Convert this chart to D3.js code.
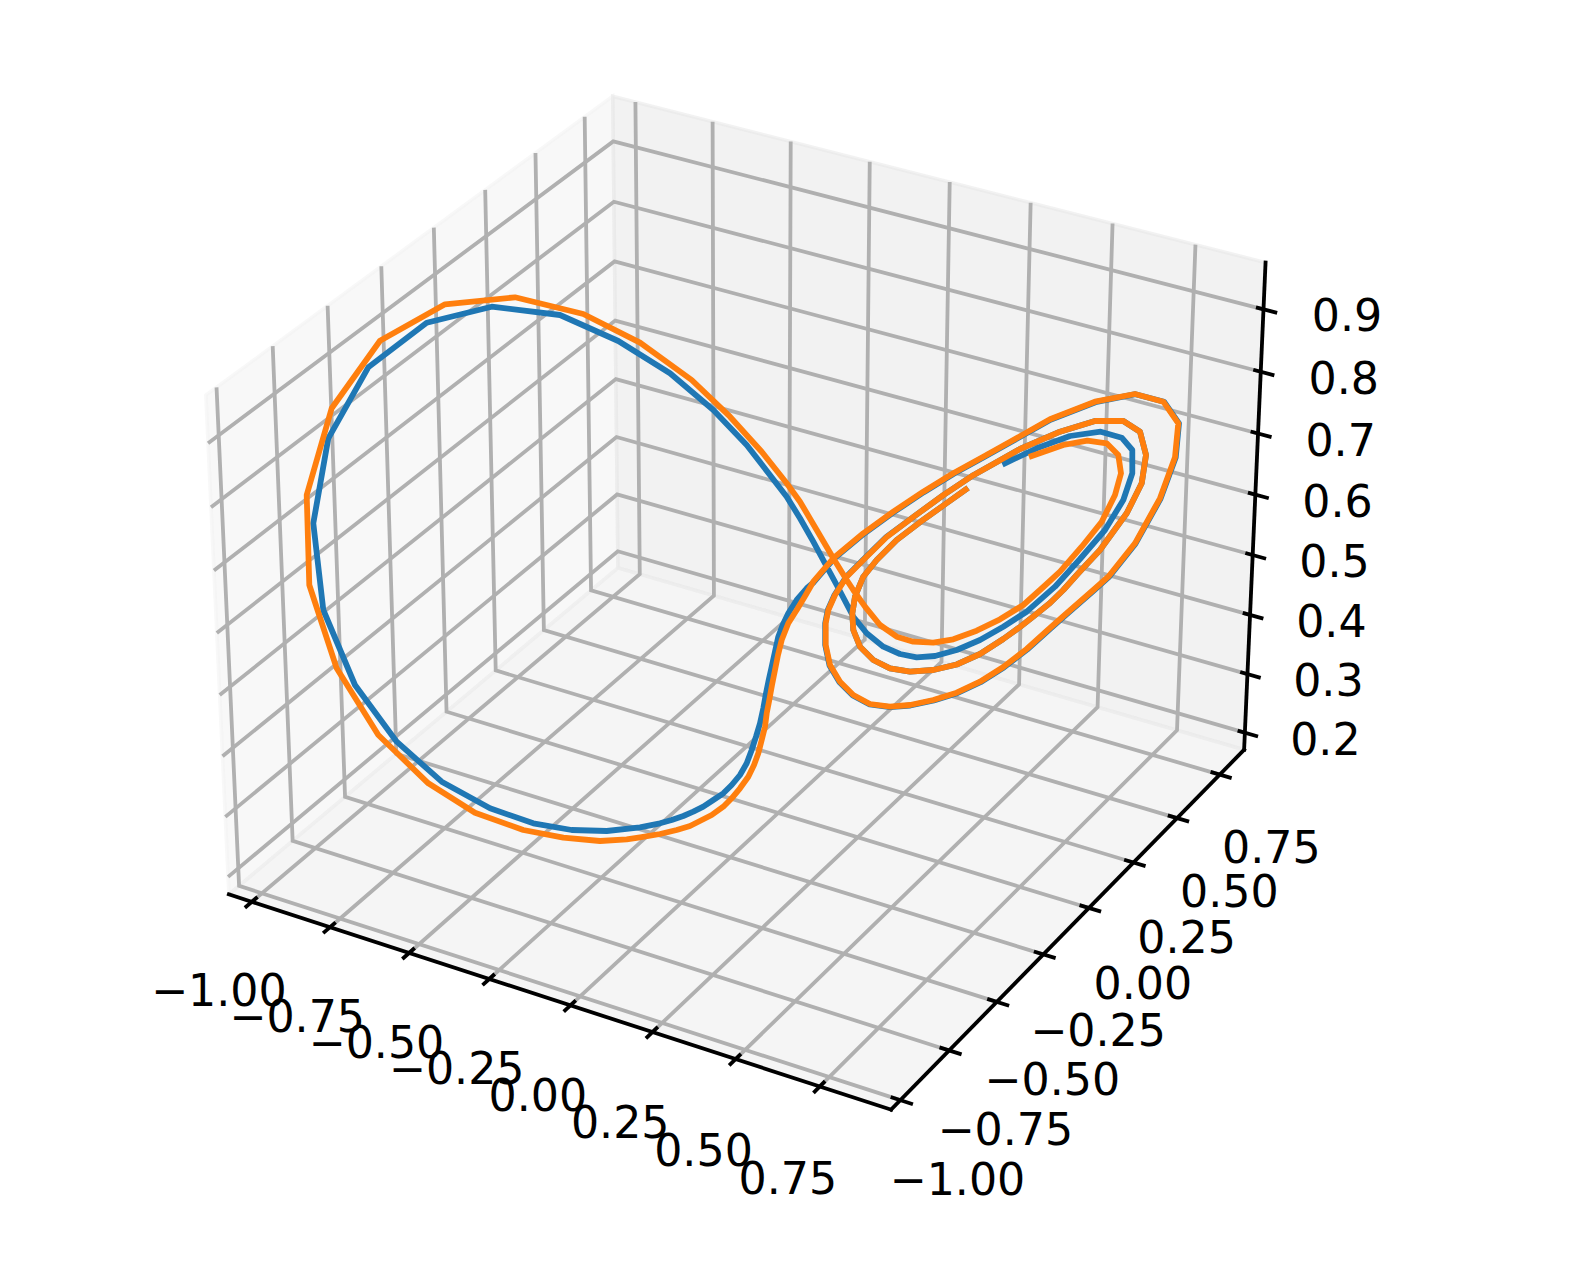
<!DOCTYPE html>
<html>
<head>
<meta charset="utf-8">
<script src="https://cdn.jsdelivr.net/npm/d3@7"></script>
<style>
  body { margin: 0; background: #fff; }
  text { font-family: "DejaVu Sans"; font-size: 44.3px; fill: #000; }
</style>
</head>
<body>
<div id="chart"></div>
<script>
// Tick values of the three axes
var xTicks = [-1, -0.75, -0.5, -0.25, 0, 0.25, 0.5, 0.75];
var yTicks = [-1, -0.75, -0.5, -0.25, 0, 0.25, 0.5, 0.75];
var zTicks = [0.2, 0.3, 0.4, 0.5, 0.6, 0.7, 0.8, 0.9];

// Axis limits
var xLimits = [-1.074, 0.959];
var yLimits = [-1.047, 0.895];
var zLimits = [0.1706, 0.9743];

// The curves can only be read flattened, so they are kept as picture plane readings [u, v]
var blueHead = [[100.5,46.33],[103.67,44.83],[107,43.6],[110.07,43.17],[112.17,43.77],[113.23,45],[113.23,47.33],
  [112.33,50],[110.5,53],[108,55.9],[105.5,58.67],[102.67,61.17],[100.33,62.67],[98,64],[95.67,65],[93.5,65.6],
  [91.67,65.73],[90,65.4],[88.33,64.67],[86.67,63.33],[85.33,61.67],[83.67,58.5],[82.5,56.33],[81.33,54.17],
  [80,51.83],[78.67,49.67],[74.67,44.5],[71.33,41],[67,37.33],[61.83,34.1],[56,31.5],[49.17,30.67],[42.67,32.27],
  [36.83,36.73],[32.83,43.83],[31.33,52.33],[32.33,61],[35.5,68.5],[39.67,74.17],[44.17,78.17],[49,80.83],
  [53.33,82.33],[57.17,83],[60.67,83.1],[64,82.73],[66,82.33],[67.17,82],[68.33,81.6],[69.33,81.17],[70.33,80.67],
  [71.33,80],[72.33,79.33],[73.17,78.5],[74,77.5],[74.67,76.33],[75.17,75],[75.6,73.67],[76,72.33],[76.33,70.83],
  [76.6,69.33],[76.87,68],[77.17,66.67],[77.5,65.17],[77.83,63.67],[78.27,62.5],[78.83,61.33],[79.67,60],[80.67,58.83]];
var blueTail = [[81.38,58.22],[83.38,55.88],[86.38,53.38],[89.38,51.22],[92.38,49.22],[95.38,47.38],[98.38,45.72],
  [101.38,44.05],[105.05,41.98],[109.55,40.22],[113.55,39.42],[116.4,40.17],[117.9,42.33],[117.57,45.76],[116.06,49.86],
  [113.55,54.37],[110.88,57.72],[109.38,59.05],[106.72,61.38],[105.05,62.85],[102.72,64.95],[100.38,66.75],[98.05,68.22],
  [95.72,69.32],[93.38,70.05],[91.03,70.55],[89,70.72],[86.97,70.45],[85.28,69.55],[83.95,68.22],[82.95,66.55],
  [82.52,64.5],[82.52,62.33],[82.78,61],[83.45,59.5],[84.62,57.67],[86.28,56],[88.62,53.7],[91.33,51.7],[94.33,49.52],
  [97.33,47.52],[100,46.02],[102,44.9],[106,43.17],[109.5,42.1],[112.33,42.1],[114,43.17],[114.6,45.5],[114.17,48.33],
  [112.67,51.33],[110,55],[107.83,57.33],[106.33,59],[105,60.3],[103.33,61.65],[102,62.7],[100.33,63.9],[98,65.4],
  [95.67,66.45],[93.33,67],[91,67.17],[89,66.83],[87.33,66],[86,64.67],[85.33,63],[85.23,61.33],[85.5,59.67],[86.33,57.67],
  [87.67,56],[89.67,54],[92,52.22],[94.33,50.55],[96.57,48.95]];

var orangeHead = [[103.17,45.6],[106.33,44.5],[108.73,44.07],[110.67,44.33],[111.83,45.5],[112.1,47.33],[111.5,49.5],
  [110.17,52.17],[108.17,54.67],[106,57.17],[104.5,58.55],[102.33,60.5],[100,61.93],[97.67,63.07],[95.33,63.93],[93.33,64.27],
  [91.33,64.17],[89.67,63.67],[88,62.5],[86.5,60.67],[85.33,59],[84.67,58],[83.33,55.83],[81.67,53],[80,50.17],[78.67,48.33],
  [76.17,45.17],[73,41.67],[69.17,38],[64,34.27],[58.33,31.4],[51.5,29.73],[44.5,30.43],[38,34.07],[33.17,40.83],[30.67,49.5],
  [30.93,58.5],[33.67,66.83],[37.83,73.5],[42.83,78.33],[47.5,81.27],[52.33,83],[56.33,83.77],[60,84.1],[62.67,83.93],
  [64,83.73],[66,83.4],[67.67,83],[69,82.6],[71.17,81.5],[72.33,80.67],[73.17,79.83],[74,78.83],[74.83,77.67],[75.4,76.5],
  [75.83,75.33],[76.17,74],[76.5,72.67],[76.67,71.33],[76.93,70],[77.2,68.5],[77.5,67],[77.8,65.5],[78.17,64],[78.83,62.33],
  [79.67,61],[80.57,59.5]];
var orangeTail = [[81.33,58.17],[83.33,55.83],[86.33,53.33],[89.33,51.17],[92.33,49.17],[95.33,47.33],[98.33,45.67],
  [101.33,44],[105,41.93],[109.5,40.17],[113.5,39.4],[116.33,40.17],[117.83,42.33],[117.5,45.73],[116,49.83],[113.5,54.33],
  [110.83,57.67],[109.33,59],[106.67,61.33],[105,62.8],[102.67,64.9],[100.33,66.7],[98,68.17],[95.67,69.27],[93.33,70],
  [91,70.5],[89,70.67],[87,70.4],[85.33,69.5],[84,68.17],[83,66.5],[82.57,64.5],[82.57,62.33],[82.83,61],[83.5,59.5],
  [84.67,57.67],[86.33,56],[88.67,53.7],[91.33,51.7],[94.33,49.52],[97.33,47.52],[100,46.02],[102,44.9],[106,43.17],
  [109.5,42.1],[112.33,42.1],[114,43.17],[114.6,45.5],[114.17,48.33],[112.67,51.33],[110,55],[107.83,57.33],[106.33,59],
  [105,60.3],[103.33,61.65],[102,62.7],[100.33,63.9],[98,65.4],[95.67,66.45],[93.33,67],[91,67.17],[89,66.83],[87.33,66],
  [86,64.67],[85.33,63],[85.23,61.33],[85.5,59.67],[86.33,57.67],[87.67,56],[89.67,54],[92,52.22],[94.33,50.55],[96.57,48.95]];

var blueCurve = blueHead.concat(blueTail);
var orangeCurve = orangeHead.concat(orangeTail);

// Set up the chart
var svgWidth = 1582;
var svgHeight = 1274;

var svg = d3.select("#chart")
  .append("svg")
  .attr("width", svgWidth)
  .attr("height", svgHeight)
  .style("display", "block");

// Scales from data to the unit box
var xScale = d3.scaleLinear().domain(xLimits).range([0, 1]);
var yScale = d3.scaleLinear().domain(yLimits).range([0, 1]);
var zScale = d3.scaleLinear().domain(zLimits).range([0, 1]);

// Scales for the picture plane readings
var uScale = d3.scaleLinear().domain([0, 158.2]).range([0, svgWidth]);
var vScale = d3.scaleLinear().domain([0, 127.4]).range([0, svgHeight]);

// Camera, same as the default 3d view (elev 30, azim -60, dist 10, box 4:4:3)
var elev = 30 * Math.PI / 180;
var azim = -60 * Math.PI / 180;
var dist = 10;
var box = [1.1429, 1.1429, 0.8572];
var viewScale = 6640;
var viewX = 745.5;
var viewY = 579.5;

function project(fx, fy, fz) {
  var qx = (fx - 0.5) * box[0];
  var qy = (fy - 0.5) * box[1];
  var qz = (fz - 0.5) * box[2];
  var a = -Math.sin(azim) * qx + Math.cos(azim) * qy;
  var b = -Math.sin(elev) * Math.cos(azim) * qx - Math.sin(elev) * Math.sin(azim) * qy + Math.cos(elev) * qz;
  var n = Math.cos(elev) * Math.cos(azim) * qx + Math.cos(elev) * Math.sin(azim) * qy + Math.sin(elev) * qz;
  var w = dist - n;
  return [viewX + viewScale * a / w, viewY - viewScale * b / w];
}

var line3d = d3.line()
  .x(d => project(d[0], d[1], d[2])[0])
  .y(d => project(d[0], d[1], d[2])[1]);

// Panes
var panes = [
  { color: "rgba(242,242,242,0.5)", pts: [[0,0,0],[0,1,0],[0,1,1],[0,0,1]] },
  { color: "rgba(230,230,230,0.5)", pts: [[0,1,0],[1,1,0],[1,1,1],[0,1,1]] },
  { color: "rgba(236,236,236,0.5)", pts: [[0,0,0],[1,0,0],[1,1,0],[0,1,0]] }
];

svg.append("g").selectAll("path")
  .data(panes)
  .enter()
  .append("path")
  .attr("d", d => line3d(d.pts) + "Z")
  .attr("fill", d => d.color)
  .attr("stroke", d => d.color)
  .attr("stroke-width", 3.5);

// Gridlines
var gridLines = [];
xTicks.forEach(function(t) {
  var f = xScale(t);
  gridLines.push([[f,0,0],[f,1,0],[f,1,1]]);
});
yTicks.forEach(function(t) {
  var f = yScale(t);
  gridLines.push([[1,f,0],[0,f,0],[0,f,1]]);
});
zTicks.forEach(function(t) {
  var f = zScale(t);
  gridLines.push([[0,0,f],[0,1,f],[1,1,f]]);
});

svg.append("g").selectAll("path")
  .data(gridLines)
  .enter()
  .append("path")
  .attr("d", d => line3d(d))
  .attr("fill", "none")
  .attr("stroke", "#b0b0b0")
  .attr("stroke-width", 3.8);

// Axis lines
var axisLines = [
  [[0,0,0],[1,0,0]],
  [[1,0,0],[1,1,0]],
  [[1,1,0],[1,1,1]]
];

svg.append("g").selectAll("path")
  .data(axisLines)
  .enter()
  .append("path")
  .attr("d", d => line3d(d))
  .attr("fill", "none")
  .attr("stroke", "#000")
  .attr("stroke-width", 3.8)
  .attr("stroke-linecap", "square");

// Tick marks
var tickLines = [];
xTicks.forEach(function(t) {
  var f = xScale(t);
  tickLines.push([[f,-0.0165,0],[f,0.0135,0]]);
});
yTicks.forEach(function(t) {
  var f = yScale(t);
  tickLines.push([[1.018,f,0],[0.986,f,0]]);
});
zTicks.forEach(function(t) {
  var f = zScale(t);
  tickLines.push([[1.02,1,f],[0.989,1,f]]);
});

svg.append("g").selectAll("path")
  .data(tickLines)
  .enter()
  .append("path")
  .attr("d", d => line3d(d))
  .attr("fill", "none")
  .attr("stroke", "#000")
  .attr("stroke-width", 3.8);

// Tick labels
var fmt2 = d3.format(".2f");
var fmt1 = d3.format(".1f");

// label offset from its tick drifts a little along each axis (first tick -> last tick)
function addLabels(ticks, toBox, fmt, dxRange, dyRange) {
  var dx = d3.scaleLinear().domain(d3.extent(ticks)).range(dxRange);
  var dy = d3.scaleLinear().domain(d3.extent(ticks)).range(dyRange);

  svg.append("g").selectAll("text")
    .data(ticks)
    .enter()
    .append("text")
    .attr("x", d => project.apply(null, toBox(d))[0] + dx(d))
    .attr("y", d => project.apply(null, toBox(d))[1] + dy(d) + 16.1)
    .attr("text-anchor", "middle")
    .text(d => fmt(d));
}

addLabels(xTicks, d => [xScale(d), 0, 0], fmt2, [-33, -32], [88, 91]);
addLabels(yTicks, d => [1, yScale(d), 0], fmt2, [57, 51.5], [79, 72]);
addLabels(zTicks, d => [1, 1, zScale(d)], fmt1, [80.5, 83.5], [6, 6]);

// Curves
var curve = d3.line()
  .x(d => uScale(d[0]))
  .y(d => vScale(d[1]));

svg.append("path")
  .attr("d", curve(blueCurve))
  .attr("fill", "none")
  .attr("stroke", "#1f77b4")
  .attr("stroke-width", 5.8)
  .attr("stroke-linejoin", "round")
  .attr("stroke-linecap", "square");

svg.append("path")
  .attr("d", curve(orangeCurve))
  .attr("fill", "none")
  .attr("stroke", "#ff7f0e")
  .attr("stroke-width", 5.8)
  .attr("stroke-linejoin", "round")
  .attr("stroke-linecap", "square");
</script>
</body>
</html>
